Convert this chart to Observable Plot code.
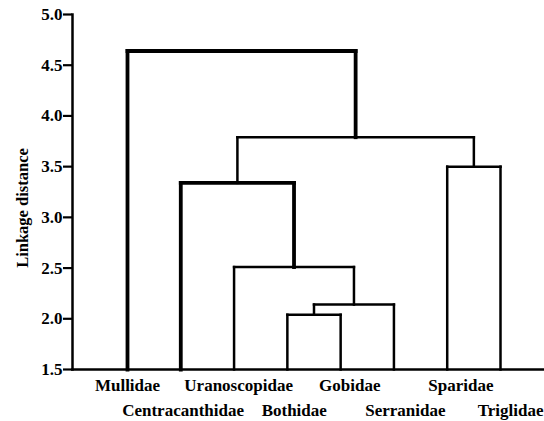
<!DOCTYPE html>
<html>
<head>
<meta charset="utf-8">
<script src="https://cdn.jsdelivr.net/npm/d3@7"></script>
<script src="https://cdn.jsdelivr.net/npm/@observablehq/plot@0.6"></script>
<style>
  html, body { margin: 0; padding: 0; background: #fff; }
  svg { display: block; }
</style>
</head>
<body>
<div id="chart"></div>
<script>
// Leaves (left to right) of the dendrogram
const leaves = ["Mullidae", "Centracanthidae", "Uranoscopidae", "Bothidae", "Gobidae", "Serranidae", "Sparidae", "Triglidae"];
// Merges: cluster ids, their two children and the linkage distance
const mergeIds = ["c1", "c2", "c3", "c4", "c5", "c6", "c7"];
const mergeLeft = ["Bothidae", "c1", "Uranoscopidae", "Centracanthidae", "Sparidae", "c4", "Mullidae"];
const mergeRight = ["Gobidae", "Serranidae", "c2", "c3", "Triglidae", "c5", "c6"];
const mergeHeight = [2.04, 2.14, 2.51, 3.34, 3.50, 3.79, 4.64];
const yTicks = [1.5, 2.0, 2.5, 3.0, 3.5, 4.0, 4.5, 5.0];
const yLabel = "Linkage distance";

const baseline = 1.5;
const thick = new Set(["c4", "c7"]);

// node positions
const pos = new Map();
leaves.forEach((name, i) => pos.set(name, {x: i, y: baseline}));
const segs = [];
mergeIds.forEach((id, k) => {
  const a = pos.get(mergeLeft[k]), b = pos.get(mergeRight[k]);
  const h = mergeHeight[k];
  pos.set(id, {x: (a.x + b.x) / 2, y: h});
  const w = thick.has(id) ? 3.8 : 2.5;
  segs.push({x1: a.x, y1: a.y, x2: a.x, y2: h, w});
  segs.push({x1: a.x, y1: h, x2: b.x, y2: h, w});
  segs.push({x1: b.x, y1: b.y, x2: b.x, y2: h, w});
});

const font = "'Liberation Serif', 'DejaVu Serif', serif";
const lastIdx = leaves.length - 1;
const labelStyle = {fontSize: 17, fontWeight: "bold", lineAnchor: "middle", fill: "#000"};

const chart = Plot.plot({
  width: 544,
  height: 421,
  marginLeft: 72,
  marginRight: 0,
  marginTop: 14,
  marginBottom: 52,
  style: {fontFamily: font, fontWeight: "bold", color: "#000", background: "#fff", overflow: "visible"},
  x: {type: "linear", domain: [0, 7], range: [127, 500], axis: null},
  y: {domain: [1.5, 5.0], label: null},
  marks: [
    Plot.axisY({ticks: yTicks, tickFormat: d3.format(".1f"), tickSize: 9, tickPadding: 1, fontSize: 17, fontWeight: "bold", strokeWidth: 2.2, label: null}),
    Plot.link(segs, {x1: "x1", y1: "y1", x2: "x2", y2: "y2", stroke: "#000", strokeWidth: "w", strokeLinecap: "square"}),
    Plot.frame({anchor: "left", strokeWidth: 2.5}),
    Plot.frame({anchor: "bottom", strokeWidth: 2.5}),
    Plot.text(leaves, {
      ...labelStyle,
      x: (d, i) => i * 1.043,
      y: () => baseline,
      text: d => d,
      filter: (d, i) => i % 2 === 0,
      dy: 16
    }),
    Plot.text(leaves, {
      ...labelStyle,
      x: (d, i) => i * 1.043,
      y: () => baseline,
      text: d => d,
      filter: (d, i) => i % 2 === 1 && i !== lastIdx,
      dy: 41
    }),
    Plot.text([leaves[lastIdx]], {
      ...labelStyle,
      frameAnchor: "bottom-right",
      textAnchor: "end",
      text: d => d,
      dx: -1,
      dy: 41
    }),
    Plot.text([yLabel], {
      frameAnchor: "left",
      textAnchor: "middle",
      rotate: -90,
      dx: -50,
      dy: 16,
      fontSize: 16.5,
      fontWeight: "bold",
      fill: "#000"
    })
  ]
});
document.getElementById("chart").appendChild(chart);
</script>
</body>
</html>
